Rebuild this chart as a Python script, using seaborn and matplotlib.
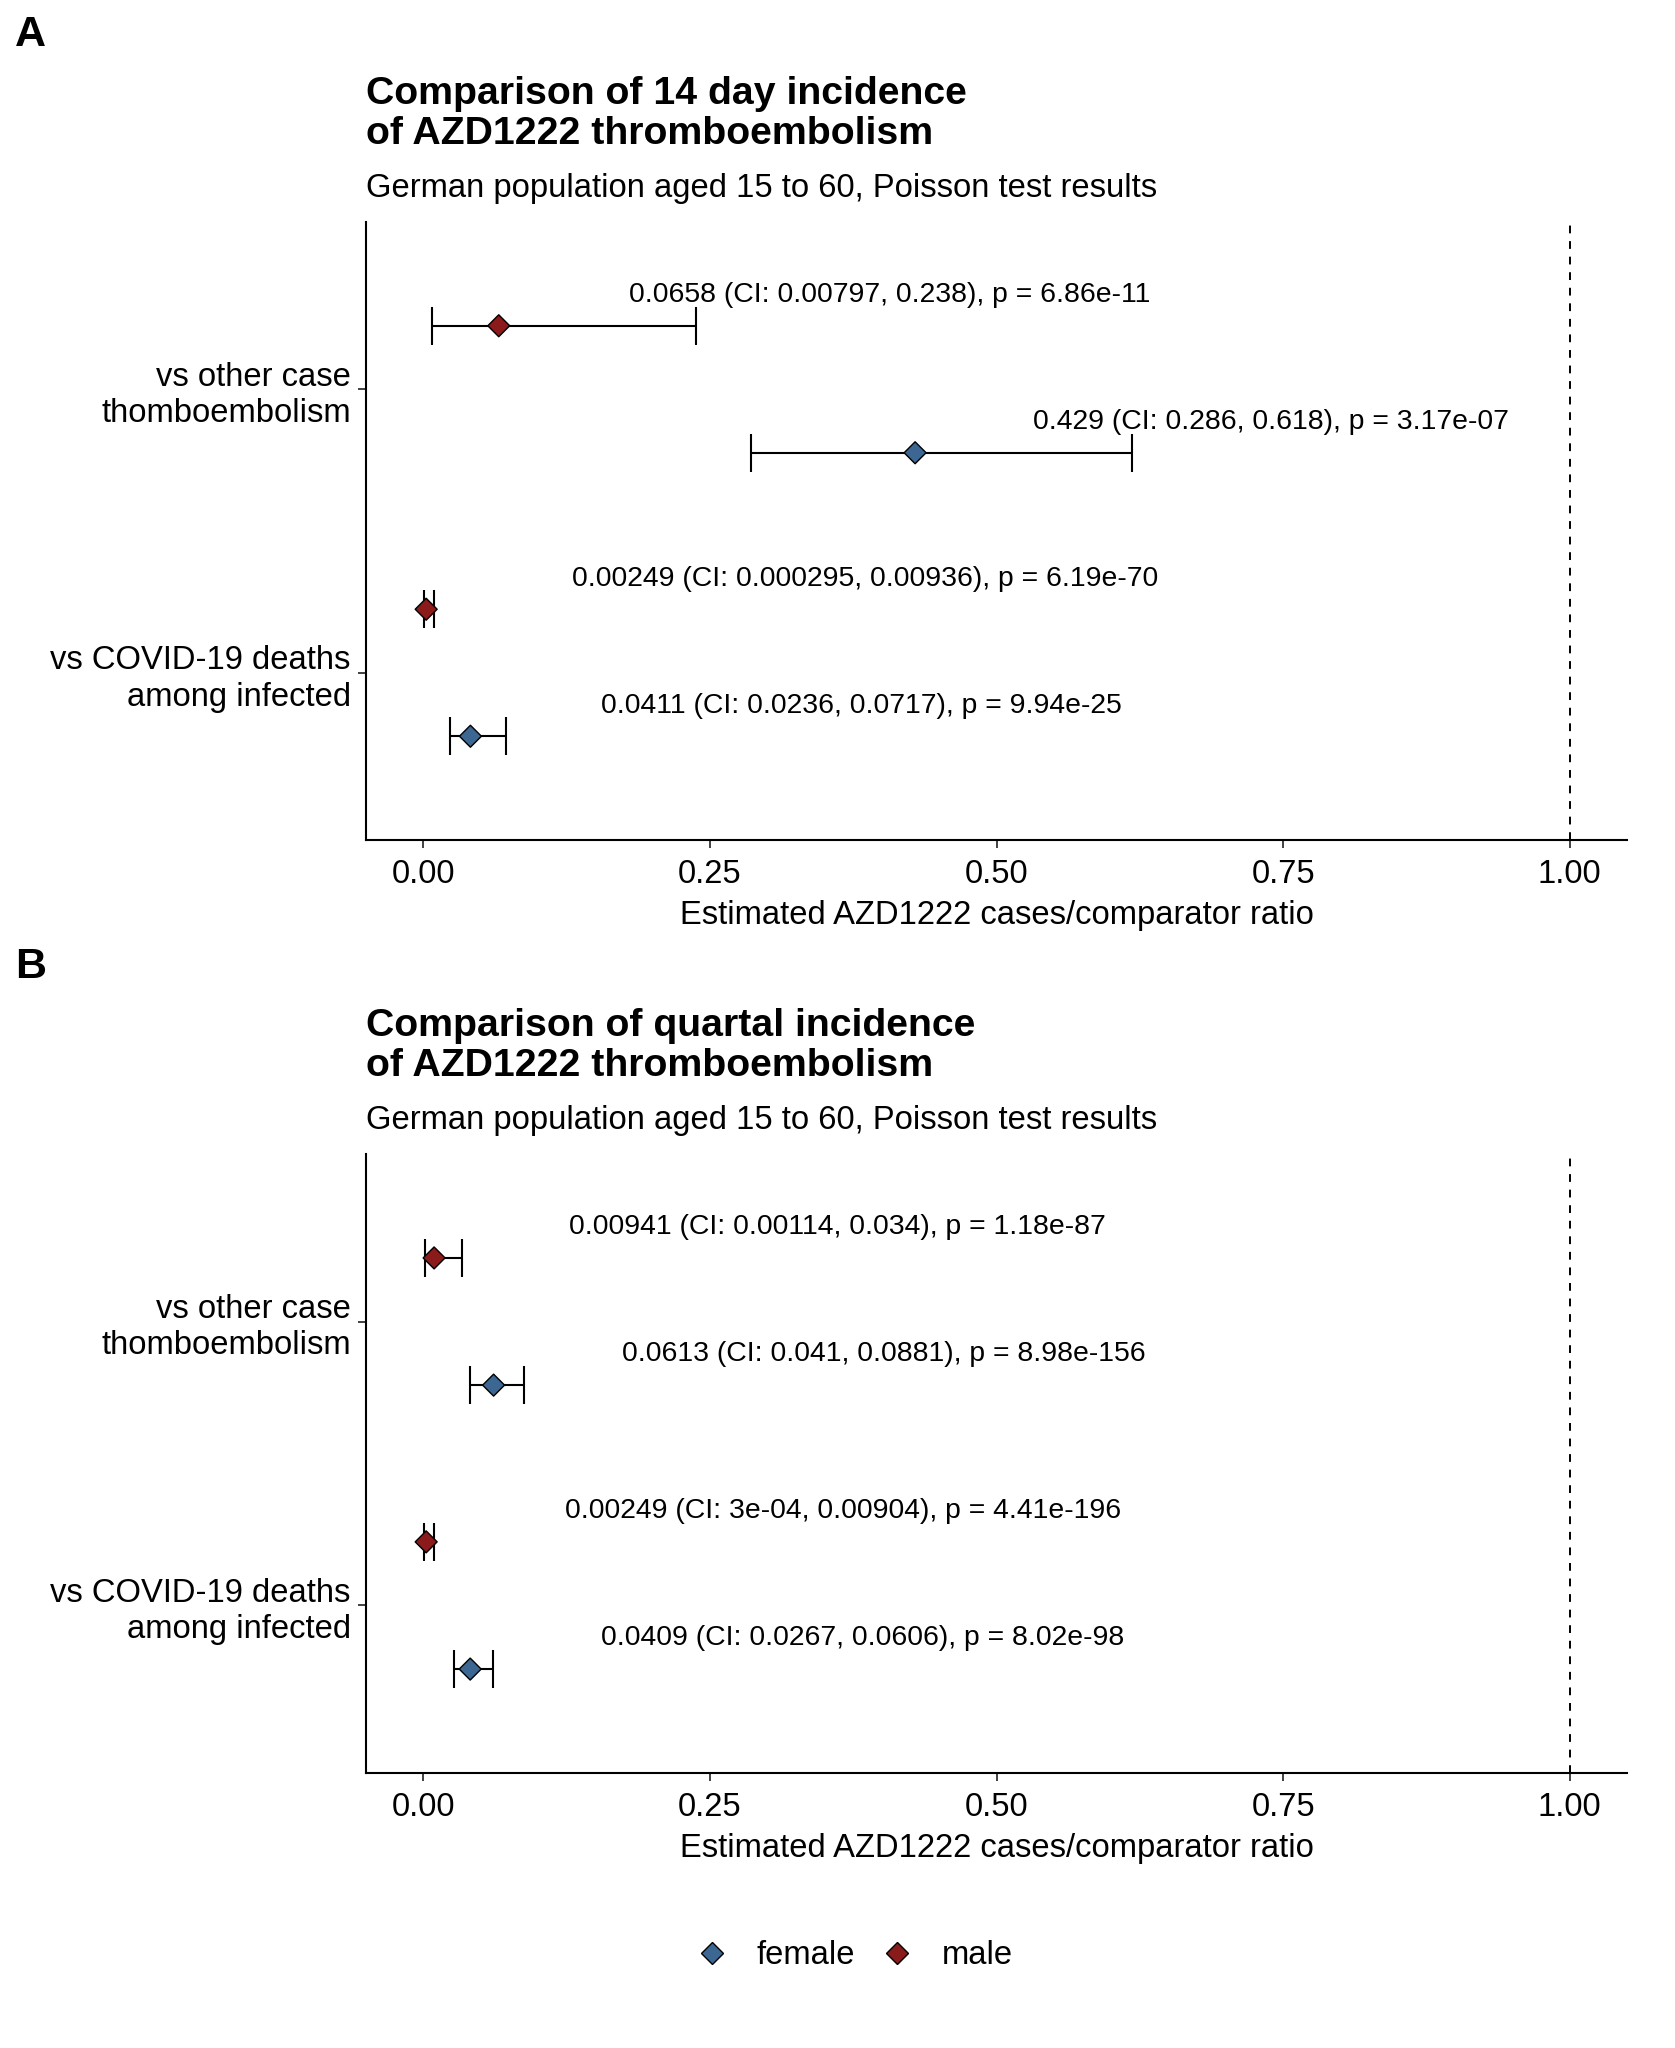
import numpy as np
import pandas as pd
import matplotlib
matplotlib.use("Agg")
import matplotlib.pyplot as plt
from matplotlib.lines import Line2D
import seaborn as sns

# ---------------- data ----------------
comparisons = ["vs other case\nthomboembolism", "vs COVID-19 deaths\namong infected"]
sexes = ["male", "female"]

# Panel A: 14 day incidence  (order: other-male, other-female, covid-male, covid-female)
a_est = [0.0658, 0.429, 0.00249, 0.0411]
a_lo = [0.00797, 0.286, 0.000295, 0.0236]
a_hi = [0.238, 0.618, 0.00936, 0.0717]
a_labels = ["0.0658 (CI: 0.00797, 0.238), p = 6.86e-11",
            "0.429 (CI: 0.286, 0.618), p = 3.17e-07",
            "0.00249 (CI: 0.000295, 0.00936), p = 6.19e-70",
            "0.0411 (CI: 0.0236, 0.0717), p = 9.94e-25"]

# Panel B: quartal incidence
b_est = [0.00941, 0.0613, 0.00249, 0.0409]
b_lo = [0.00114, 0.041, 3e-04, 0.0267]
b_hi = [0.034, 0.0881, 0.00904, 0.0606]
b_labels = ["0.00941 (CI: 0.00114, 0.034), p = 1.18e-87",
            "0.0613 (CI: 0.041, 0.0881), p = 8.98e-156",
            "0.00249 (CI: 3e-04, 0.00904), p = 4.41e-196",
            "0.0409 (CI: 0.0267, 0.0606), p = 8.02e-98"]

xticks = [0.0, 0.25, 0.5, 0.75, 1.0]
xtick_labels = ["0.00", "0.25", "0.50", "0.75", "1.00"]

# layout: horizontal centre of each annotation (data units)
a_label_x = [0.407, 0.739, 0.385, 0.382]
b_label_x = [0.361, 0.402, 0.366, 0.383]

# ---------------- style ----------------
sns.set_theme(style="white")
plt.rcParams['font.family'] = ['Liberation Sans', 'DejaVu Sans']
plt.rcParams['text.color'] = 'black'
plt.rcParams['axes.labelcolor'] = 'black'
plt.rcParams['xtick.color'] = 'black'
plt.rcParams['ytick.color'] = 'black'

colors = {"female": "#3B6792", "male": "#8B1A1A"}
FONT_TICK = 23.6
FONT_ANN = 20.4
FONT_TITLE = 28.3

W, H = 1675, 2048
fig = plt.figure(figsize=(W / 100, H / 100), dpi=100)


def make_df(est, lo, hi, labels, lx):
    rows = []
    i = 0
    for ci, comp in enumerate(comparisons):
        for sex in sexes:
            rows.append(dict(comparison=comp, sex=sex, est=est[i], lo=lo[i], hi=hi[i],
                             label=labels[i], lx=lx[i]))
            i += 1
    return pd.DataFrame(rows)


def panel(ax, df):
    # category positions: first comparison at top
    cat_pos = {comparisons[0]: 2.0, comparisons[1]: 1.0}
    dodge = {"male": 0.224, "female": -0.224}
    df = df.copy()
    df["y"] = [cat_pos[c] + dodge[s] for c, s in zip(df["comparison"], df["sex"])]
    ax.axvline(1.0, color="black", linestyle=(0, (4, 4)), linewidth=1.4, zorder=1)
    for _, r in df.iterrows():
        ax.errorbar(r["est"], r["y"], xerr=[[r["est"] - r["lo"]], [r["hi"] - r["est"]]],
                    fmt="none", ecolor="black", elinewidth=1.5, capsize=14, capthick=1.5, zorder=2)
        ax.text(r["lx"], r["y"] + 0.108, r["label"], ha="center", va="center",
                fontsize=FONT_ANN, color="black")
    sns.scatterplot(data=df, x="est", y="y", hue="sex", palette=colors, marker="D",
                    s=125, edgecolor="black", linewidth=1.0, ax=ax, legend=False, zorder=3)
    ax.set_xlim(-0.05, 1.05)
    ax.set_ylim(0.41, 2.59)
    ax.set_yticks([cat_pos[c] for c in comparisons])
    ax.set_yticklabels(comparisons, fontsize=FONT_TICK, linespacing=1.22)
    ax.set_xticks(xticks)
    ax.set_xticklabels(xtick_labels, fontsize=FONT_TICK)
    ax.set_xlabel("Estimated AZD1222 cases/comparator ratio", fontsize=FONT_TICK, labelpad=7)
    ax.set_ylabel("")
    for side in ["top", "right"]:
        ax.spines[side].set_visible(False)
    for side in ["left", "bottom"]:
        ax.spines[side].set_color("black")
        ax.spines[side].set_linewidth(1.5)
    ax.tick_params(axis="both", which="major", length=6, width=1.3, color="#333333",
                   direction="out", bottom=True, left=True, pad=5, labelcolor="black")
    ax.tick_params(axis="x", pad=8)


axA = fig.add_axes([366 / W, 1 - 840 / H, (1627 - 366) / W, 618 / H])
axB = fig.add_axes([366 / W, 1 - 1773 / H, (1627 - 366) / W, 619 / H])

panel(axA, make_df(a_est, a_lo, a_hi, a_labels, a_label_x))
panel(axB, make_df(b_est, b_lo, b_hi, b_labels, b_label_x))

# titles
x0 = 366 / W
fig.text(x0, 1 - 114 / H, "Comparison of 14 day incidence\nof AZD1222 thromboembolism",
         fontsize=FONT_TITLE, fontweight="bold", ha="left", va="center", linespacing=1.17)
fig.text(x0, 1 - 189 / H, "German population aged 15 to 60, Poisson test results",
         fontsize=FONT_TICK, ha="left", va="center")
fig.text(x0, 1 - 1046 / H, "Comparison of quartal incidence\nof AZD1222 thromboembolism",
         fontsize=FONT_TITLE, fontweight="bold", ha="left", va="center", linespacing=1.17)
fig.text(x0, 1 - 1120 / H, "German population aged 15 to 60, Poisson test results",
         fontsize=FONT_TICK, ha="left", va="center")

fig.text(15 / W, 1 - 35 / H, "A", fontsize=31, fontweight="bold", ha="left", va="center")
fig.text(15 / W, 1 - 967 / H, "B", fontsize=31, fontweight="bold", ha="left", va="center")

# legend
handles = [Line2D([], [], marker="D", linestyle="none", markersize=11,
                  markerfacecolor=colors[s], markeredgecolor="black", markeredgewidth=1.0)
           for s in ["female", "male"]]
fig.legend(handles, ["female", "male"], loc="center", bbox_to_anchor=(0.509, 1 - 1956 / H),
           ncol=2, frameon=False, fontsize=FONT_TICK, handletextpad=0.75, columnspacing=0.7,
           handlelength=1.2)

fig.savefig("out.png", dpi=100, facecolor="white")
